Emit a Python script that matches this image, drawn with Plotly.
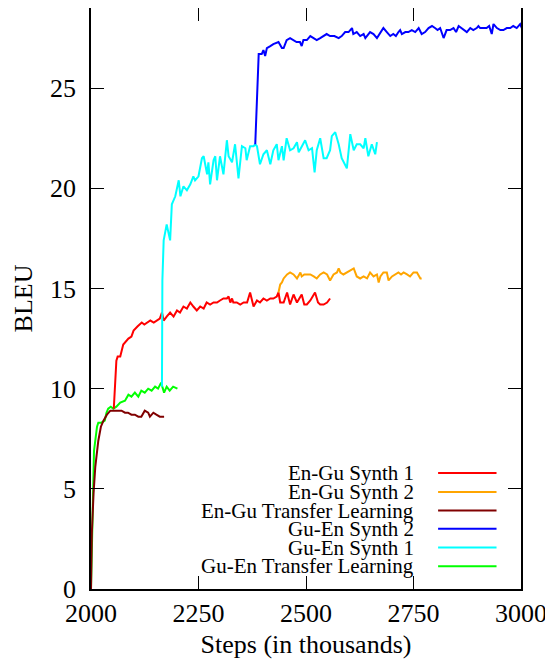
import plotly.graph_objects as go

# ---------------- data (steps in thousands, BLEU) ----------------
gu_en_tl_x = [2000, 2004, 2007, 2014, 2017, 2024, 2032, 2036, 2040, 2046, 2052, 2059, 2068, 2079, 2087,
              2094, 2102, 2110, 2117, 2125, 2133, 2141, 2149, 2156, 2163, 2170, 2176, 2183, 2191, 2201]
gu_en_tl_y = [0.0, 4.5, 6.9, 8.1, 8.3, 8.3, 8.4, 8.8, 9.0, 9.1, 9.0, 9.1, 9.3, 9.4, 9.7,
              9.6, 9.8, 9.6, 9.9, 9.8, 10.0, 9.9, 10.1, 10.0, 10.3, 9.8, 10.1, 9.9, 10.1, 10.0]

en_gu_tl_x = [2000, 2002, 2006, 2010, 2017, 2023, 2029, 2037, 2045, 2055, 2063, 2071, 2079, 2086, 2094,
              2102, 2110, 2117, 2125, 2133, 2137, 2145, 2152, 2160, 2170]
en_gu_tl_y = [0.0, 2.8, 4.8, 6.1, 7.4, 8.1, 8.4, 8.7, 8.9, 8.9, 8.9, 8.9, 8.8, 8.8, 8.7,
              8.7, 8.6, 8.6, 8.9, 8.8, 8.6, 8.8, 8.7, 8.6, 8.6]

en_gu_s1_x = [2053, 2059, 2062, 2068, 2075, 2079, 2087, 2094, 2099, 2108, 2118, 2124, 2130, 2138, 2146,
              2153, 2160, 2165, 2169, 2176, 2184, 2192, 2200, 2207, 2215, 2223, 2231, 2238, 2246, 2254,
              2262, 2269, 2277, 2285, 2293, 2300, 2308, 2316, 2320, 2324, 2328, 2331, 2339, 2347, 2355,
              2363, 2370, 2378, 2386, 2393, 2401, 2409, 2417, 2424, 2432, 2436, 2440, 2448, 2456, 2463,
              2471, 2479, 2485, 2490, 2496, 2502, 2510, 2516, 2521, 2528, 2533, 2541, 2549, 2556]
en_gu_s1_y = [9.0, 11.4, 11.6, 11.6, 12.2, 12.3, 12.5, 12.6, 12.9, 13.1, 13.3, 13.2, 13.3, 13.4, 13.3,
              13.4, 13.5, 13.8, 13.4, 13.6, 13.8, 13.6, 13.9, 13.8, 14.1, 14.0, 14.3, 14.1, 13.9, 14.1,
              14.0, 14.3, 14.2, 14.3, 14.3, 14.4, 14.5, 14.5, 14.6, 14.3, 14.5, 14.3, 14.3, 14.2, 14.3,
              14.3, 14.8, 14.1, 14.4, 14.3, 14.5, 14.4, 14.5, 14.5, 14.6, 14.8, 14.3, 14.3, 14.8, 14.2,
              14.7, 14.3, 14.5, 14.7, 14.2, 14.2, 14.4, 14.6, 14.8, 14.3, 14.2, 14.2, 14.3, 14.5]

en_gu_s2_x = [2436, 2440, 2444, 2448, 2456, 2463, 2471, 2479, 2487, 2490, 2496, 2502, 2510, 2518, 2525,
              2533, 2541, 2549, 2556, 2564, 2572, 2576, 2580, 2587, 2595, 2603, 2611, 2618, 2626, 2634,
              2642, 2649, 2657, 2665, 2669, 2673, 2680, 2688, 2692, 2700, 2707, 2715, 2721, 2727, 2735,
              2742, 2750, 2758, 2766, 2769]
en_gu_s2_y = [14.8, 15.2, 15.3, 15.5, 15.7, 15.8, 15.7, 15.5, 15.8, 15.6, 15.7, 15.7, 15.7, 15.6, 15.5,
              15.7, 15.8, 15.7, 15.4, 15.7, 15.8, 16.0, 15.8, 15.7, 15.8, 15.9, 16.0, 15.6, 15.5, 15.6,
              15.5, 15.8, 15.6, 15.7, 15.3, 15.6, 15.8, 15.8, 15.4, 15.6, 15.7, 15.8, 15.7, 15.8, 15.7,
              15.6, 15.8, 15.8, 15.5, 15.5]

gu_en_s1_x = [2165, 2166, 2169, 2176, 2184, 2188, 2196, 2204, 2208, 2215, 2223, 2231, 2238, 2242, 2250,
              2258, 2262, 2270, 2273, 2277, 2285, 2289, 2293, 2300, 2308, 2316, 2320, 2328, 2335, 2343,
              2351, 2359, 2362, 2370, 2378, 2382, 2386, 2393, 2401, 2409, 2417, 2424, 2432, 2436, 2444,
              2448, 2455, 2463, 2471, 2479, 2483, 2490, 2498, 2506, 2514, 2520, 2525, 2533, 2541, 2548,
              2556, 2560, 2568, 2576, 2583, 2595, 2603, 2611, 2618, 2626, 2634, 2638, 2645, 2653, 2661,
              2665]
gu_en_s1_y = [10.1, 15.4, 17.4, 18.2, 17.4, 19.2, 19.6, 20.4, 19.6, 20.1, 19.9, 20.2, 20.6, 20.4, 20.6,
              21.5, 21.6, 20.7, 21.3, 20.2, 21.4, 21.6, 20.4, 21.6, 20.7, 22.4, 21.6, 21.3, 22.2, 20.5,
              22.1, 22.0, 21.4, 22.1, 22.1, 22.2, 22.1, 21.2, 21.7, 21.9, 21.2, 21.9, 22.2, 21.4, 22.1,
              21.4, 22.5, 21.9, 22.0, 22.3, 21.8, 22.1, 22.4, 21.9, 22.0, 20.8, 21.9, 22.5, 21.5, 21.5,
              21.9, 22.6, 22.8, 22.2, 21.5, 21.0, 22.7, 21.9, 22.2, 22.2, 22.0, 22.5, 21.6, 22.2, 21.7,
              22.3]

gu_en_s2_x = [2382, 2390, 2397, 2401, 2405, 2409, 2417, 2424, 2436, 2444, 2448, 2455, 2463, 2471, 2478,
              2486, 2490, 2494, 2502, 2510, 2517, 2525, 2533, 2541, 2548, 2556, 2566, 2576, 2583, 2591,
              2599, 2607, 2610, 2618, 2626, 2634, 2638, 2649, 2657, 2665, 2676, 2680, 2688, 2696, 2703,
              2709, 2715, 2719, 2723, 2731, 2738, 2746, 2754, 2762, 2769, 2777, 2785, 2793, 2800, 2806,
              2812, 2820, 2827, 2835, 2843, 2849, 2855, 2862, 2868, 2874, 2882, 2889, 2897, 2901, 2905,
              2913, 2920, 2926, 2932, 2936, 2944, 2952, 2959, 2967, 2975, 2982, 2990, 2998, 3002]
gu_en_s2_y = [22.2, 26.7, 26.7, 26.9, 26.6, 27.0, 27.1, 27.2, 27.3, 27.0, 27.0, 27.4, 27.5, 27.4, 27.3,
              27.3, 27.1, 27.4, 27.4, 27.6, 27.5, 27.4, 27.5, 27.6, 27.7, 27.6, 27.6, 27.5, 27.6, 27.8,
              27.8, 28.0, 27.7, 27.8, 27.6, 27.7, 27.5, 27.8, 27.7, 27.5, 27.9, 28.0, 27.8, 27.6, 27.7,
              27.6, 27.8, 27.9, 27.7, 27.8, 27.8, 27.9, 27.8, 28.0, 27.7, 27.8, 28.0, 28.1, 28.0, 27.9,
              28.0, 27.5, 27.9, 27.9, 28.0, 27.8, 28.1, 28.0, 27.9, 27.8, 28.0, 27.9, 28.0, 28.1, 28.0,
              28.0, 28.0, 28.1, 27.7, 28.2, 28.0, 27.9, 27.9, 28.0, 28.0, 28.1, 28.0, 28.2, 28.0]

series_names = ["En-Gu Synth 1", "En-Gu Synth 2", "En-Gu Transfer Learning",
                "Gu-En Synth 2", "Gu-En Synth 1", "Gu-En Transfer Learning"]
series_colors = ["#ff0000", "#ffa500", "#800000", "#0000ff", "#00ffff", "#00ff00"]
series_x = [en_gu_s1_x, en_gu_s2_x, en_gu_tl_x, gu_en_s2_x, gu_en_s1_x, gu_en_tl_x]
series_y = [en_gu_s1_y, en_gu_s2_y, en_gu_tl_y, gu_en_s2_y, gu_en_s1_y, gu_en_tl_y]

x_ticks = [2000, 2250, 2500, 2750, 3000]
y_ticks = [0, 5, 10, 15, 20, 25]

# ---------------- figure ----------------
FONT = "Liberation Serif"
fig = go.Figure()
draw_order = [5, 2, 0, 4, 1, 3]
for i in draw_order:
    fig.add_trace(go.Scatter(x=series_x[i], y=series_y[i], mode="lines", name=series_names[i],
                             line=dict(color=series_colors[i], width=2), showlegend=False))

# page has an 8px body margin: figure sits at (8, 8) in the window
OFF = 8
W, H = 553 - OFF, 661 - OFF
L, R, T, B = 91 - OFF, 31.5, 0, 71.5
pw, ph = W - L - R, H - T - B
plot_bottom_page = OFF + H - B
row_px = [473.3, 492.3, 511.0, 529.3, 548.0, 566.7]
text_right_px = 416
line_x0_px, line_x1_px = 438.5, 497
for name, col, ypx in zip(series_names, series_colors, row_px):
    yp = (plot_bottom_page - ypx) / ph
    fig.add_annotation(x=(text_right_px - OFF - L) / pw, y=yp, xref="paper", yref="paper",
                       text=name, showarrow=False, xanchor="right", yanchor="middle",
                       font=dict(family=FONT, size=21, color="black"))
    fig.add_shape(type="line", xref="paper", yref="paper",
                  x0=(line_x0_px - OFF - L) / pw, x1=(line_x1_px - OFF - L) / pw, y0=yp, y1=yp,
                  line=dict(color=col, width=2))

axis_common = dict(showline=True, linecolor="black", linewidth=1.5, mirror="ticks",
                   ticks="inside", ticklen=13, tickwidth=1, tickcolor="black",
                   showgrid=False, zeroline=False, automargin=False,
                   tickfont=dict(family=FONT, size=26, color="black"))
fig.update_xaxes(range=[2000, 3000], tickvals=x_ticks, ticktext=[str(v) for v in x_ticks],
                 ticklabelstandoff=0,
                 title=dict(text="Steps (in thousands)", font=dict(family=FONT, size=26, color="black"),
                            standoff=8),
                 **axis_common)
fig.update_yaxes(range=[0, 29], tickvals=y_ticks, ticktext=[str(v) for v in y_ticks],
                 ticklabelstandoff=8,
                 title=dict(text="BLEU", font=dict(family=FONT, size=26, color="black"), standoff=10),
                 **axis_common)
fig.update_layout(width=W, height=H, margin=dict(l=L, r=R, t=T, b=B, pad=0),
                  plot_bgcolor="white", paper_bgcolor="white", showlegend=False)
fig.write_html("out.html")
